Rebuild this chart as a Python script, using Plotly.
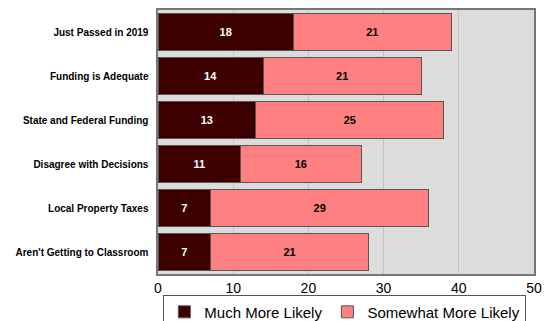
import plotly.graph_objects as go

categories = ["Just Passed in 2019", "Funding is Adequate", "State and Federal Funding",
              "Disagree with Decisions", "Local Property Taxes", "Aren't Getting to Classroom"]
much_more = [18, 14, 13, 11, 7, 7]
somewhat_more = [21, 21, 25, 16, 29, 21]
x_ticks = [0, 10, 20, 30, 40, 50]

font_family = "Liberation Sans, Arial, sans-serif"

fig = go.Figure()
fig.add_trace(go.Bar(
    y=categories, x=much_more, orientation="h", name="Much More Likely",
    marker=dict(color="#3d0000", line=dict(color="#555555", width=1)),
    text=much_more, textposition="inside", insidetextanchor="middle",
    textfont=dict(color="white", size=11, family=font_family, weight="bold"),
    width=0.86,
))
fig.add_trace(go.Bar(
    y=categories, x=somewhat_more, orientation="h", name="Somewhat More Likely",
    marker=dict(color="#ff8080", line=dict(color="#555555", width=1)),
    text=somewhat_more, textposition="inside", insidetextanchor="middle",
    textfont=dict(color="black", size=11, family=font_family, weight="bold"),
    width=0.86,
))

fig.update_layout(
    barmode="stack",
    width=554, height=321,
    margin=dict(l=158, r=20, t=10, b=47, autoexpand=False),
    paper_bgcolor="white",
    plot_bgcolor="#dcdcdc",
    font=dict(family=font_family, color="black"),
    showlegend=True,
    legend=dict(
        orientation="h", x=0.497, xanchor="center", y=-0.078, yanchor="top",
        font=dict(size=15, family=font_family),
        bordercolor="#555555", borderwidth=1, bgcolor="white",
        traceorder="normal", itemwidth=30,
    ),
    uniformtext=dict(minsize=8, mode="show"),
)
fig.update_xaxes(
    range=[0, 50], tickvals=x_ticks, ticktext=[str(v) for v in x_ticks],
    showgrid=True, gridcolor="#c4c4c4", gridwidth=1,
    showline=True, linecolor="#777777", linewidth=2, mirror=True,
    ticks="", tickfont=dict(size=14, family=font_family), zeroline=False,
)
fig.update_yaxes(
    categoryorder="array", categoryarray=categories[::-1],
    showline=True, linecolor="#777777", linewidth=2, mirror=True,
    ticks="", tickfont=dict(size=10, family=font_family, weight="bold"),
    ticksuffix="  ", range=[-0.5, 5.5],
)

fig.write_html("out.html")
